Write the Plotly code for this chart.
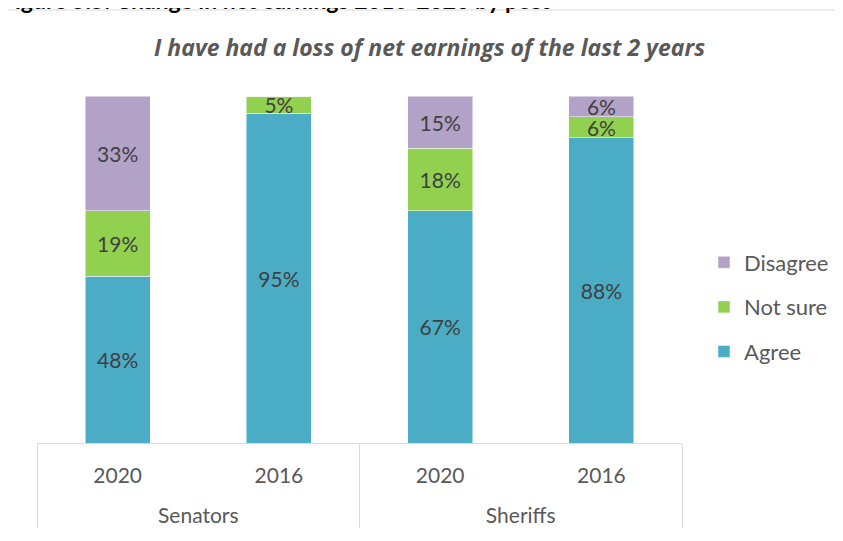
import plotly.graph_objects as go

groups = ["Senators", "Senators", "Sheriffs", "Sheriffs"]
years = ["2020", "2016", "2020", "2016"]
agree = [48, 95, 67, 88]
not_sure = [19, 5, 18, 6]
disagree = [33, 0, 15, 6]

series = [("Agree", agree, "#4BACC6", 3),
          ("Not sure", not_sure, "#92D050", 2),
          ("Disagree", disagree, "#B2A2C7", 1)]

FONT = "Lato"
W, H = 843, 541
OFF = 8  # page body margin
# plot area in page pixels: x 37..682, y 96..443
ML = 37 - OFF
MT = 96 - OFF
PW, PH = 645, 347
MR = W - ML - PW
MB = H - MT - PH

def px(x):
    return (x - OFF - ML) / PW

def py(y):
    return (MT + PH - (y - OFF)) / PH

fig = go.Figure()
for name, vals, col, rank in series:
    fig.add_trace(go.Bar(
        x=[groups, [y + "<br> " for y in years]], y=vals, name=name,
        marker=dict(color=col, line=dict(color="white", width=0.5)),
        text=[f"{v}%" if v else "" for v in vals],
        textposition="inside", insidetextanchor="middle",
        constraintext="none",
        textfont=dict(family=FONT, size=21, color="#404040"),
        legendgroup=name, legendrank=rank, hoverinfo="skip",
    ))

fig.update_layout(
    width=W, height=H,
    margin=dict(l=ML, r=MR, t=MT, b=MB, autoexpand=False),
    barmode="stack", bargap=0.596,
    plot_bgcolor="white", paper_bgcolor="white",
    font=dict(family=FONT, color="#595959"),
    showlegend=True,
    legend=dict(x=px(704), xanchor="left", y=py(307), yanchor="middle",
                traceorder="grouped", tracegroupgap=13,
                font=dict(family=FONT, size=22, color="#595959"),
                itemwidth=30, bgcolor="rgba(0,0,0,0)"),
    xaxis=dict(type="multicategory", showline=True, linecolor="#D9D9D9", linewidth=1,
               showdividers=True, dividercolor="#D9D9D9", dividerwidth=1,
               tickfont=dict(family=FONT, size=21, color="#595959"),
               ticks="", ticklabelstandoff=14,
               showgrid=False, automargin=False),
    yaxis=dict(range=[0, 100], visible=False, showgrid=False),
    uniformtext=dict(mode="show", minsize=21),
    shapes=[dict(type="rect", xref="paper", yref="paper",
                 x0=px(5), x1=px(900), y0=py(600), y1=py(10),
                 line=dict(color="#D9D9D9", width=1), layer="below")],
    annotations=[
        dict(text="<b><i>I have had a loss of net earnings of the last 2 years</i></b>",
             xref="paper", yref="paper", x=px(430), y=py(47),
             xanchor="center", yanchor="middle", showarrow=False,
             font=dict(family="Open Sans", size=23, color="#595959")),
        dict(text="<b>Figure 5.5: Change in net earnings 2016-2020 by post</b>",
             xref="paper", yref="paper", x=px(0), y=py(0),
             xanchor="left", yanchor="middle", showarrow=False,
             font=dict(family=FONT, size=23, color="#000000")),
    ],
)

fig.write_html("out.html")
